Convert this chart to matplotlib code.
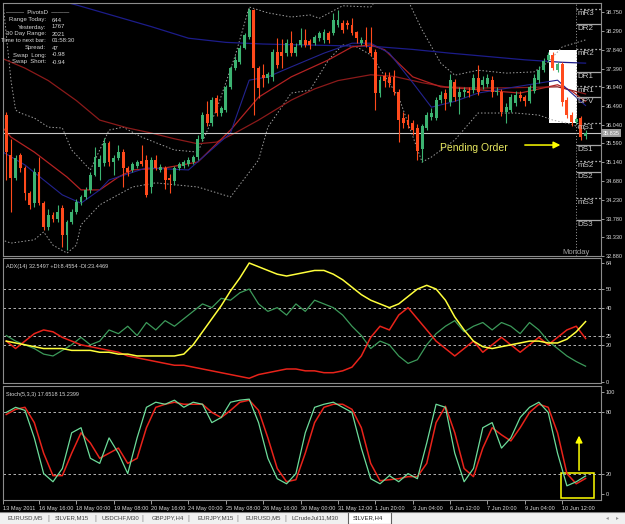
import numpy as np
import matplotlib
matplotlib.use("Agg")
import matplotlib.pyplot as plt
from matplotlib.patches import Rectangle

plt.rcParams['font.family'] = ['Liberation Sans', 'DejaVu Sans']

W, H = 625, 524

# SILVER,H4 candles, bar 0 = 13 May 2011
opens = [34.64, 36.27, 35.31, 34.76, 35.31, 35.00, 34.40, 34.15, 34.90, 34.15,
         33.58, 33.87, 33.76, 34.03, 33.38, 33.70, 33.94, 34.18, 34.30, 34.47,
         34.83, 35.02, 35.12, 35.60, 35.14, 35.24, 35.38, 35.00, 34.95, 35.05,
         35.17, 35.19, 34.54, 35.19, 34.95, 35.00, 34.76, 34.68, 35.00, 35.05,
         35.10, 35.14, 35.26, 35.70, 36.30, 36.08, 36.68, 36.32, 36.39, 36.95,
         37.40, 37.55, 37.88, 38.15, 38.80, 37.40, 37.24, 37.16, 37.19, 37.79,
         37.79, 37.76, 38.00, 37.76, 37.96, 38.08, 38.05, 38.00, 38.12, 38.08,
         38.24, 38.24, 38.44, 38.49, 38.49, 38.44, 38.27, 38.00, 38.08, 37.91,
         37.79, 36.80, 37.20, 37.18, 37.18, 36.82, 36.20, 36.15, 36.08, 35.96,
         35.45, 35.95, 36.22, 36.20, 36.63, 36.80, 36.58, 37.06, 36.70, 36.82,
         36.85, 36.87, 37.16, 36.99, 37.02, 37.11, 36.82, 36.82, 36.34, 36.40,
         36.55, 36.75, 36.70, 36.60, 36.85, 37.11, 37.35, 37.60, 37.72, 37.35,
         37.50, 36.63, 36.27, 36.10, 36.20, 35.76]
closes = [36.27, 35.38, 34.76, 35.24, 35.00, 34.40, 34.11, 34.90, 34.15, 33.58,
          33.87, 33.76, 33.95, 33.38, 33.70, 33.94, 34.18, 34.30, 34.47, 34.83,
          35.26, 35.22, 35.60, 35.14, 35.24, 35.38, 35.00, 34.90, 35.10, 35.15,
          35.10, 34.35, 35.19, 35.00, 35.02, 34.71, 34.71, 35.00, 35.10, 35.15,
          35.20, 35.26, 35.70, 36.27, 36.08, 36.63, 36.32, 36.44, 36.95, 37.40,
          37.60, 37.88, 38.20, 38.80, 37.40, 36.92, 37.16, 37.25, 37.79, 37.48,
          37.70, 38.00, 37.76, 37.91, 38.08, 37.96, 37.96, 38.15, 38.24, 38.27,
          38.08, 38.56, 38.56, 38.32, 38.44, 38.24, 38.12, 38.08, 37.96, 37.76,
          36.80, 37.11, 37.10, 37.04, 36.82, 36.15, 36.08, 36.04, 35.91, 35.40,
          36.00, 36.27, 36.32, 36.63, 36.75, 36.65, 37.11, 36.70, 36.82, 36.88,
          36.80, 37.16, 36.82, 37.11, 37.16, 36.82, 36.85, 36.34, 36.46, 36.70,
          36.75, 36.68, 36.60, 36.94, 37.16, 37.35, 37.56, 37.72, 37.40, 37.50,
          36.58, 36.27, 36.10, 36.18, 35.74, 35.84]
highs = [36.40, 36.35, 35.70, 35.30, 35.35, 35.05, 34.45, 35.00, 35.26, 34.20,
         34.00, 33.95, 34.10, 34.10, 33.75, 34.00, 34.25, 34.35, 34.55, 34.90,
         35.50, 35.30, 35.72, 35.65, 35.30, 35.55, 35.45, 35.05, 35.15, 35.20,
         35.55, 35.30, 35.25, 35.30, 35.10, 35.05, 34.85, 35.05, 35.15, 35.20,
         35.25, 35.30, 35.78, 36.35, 36.60, 36.70, 36.75, 36.50, 37.00, 37.45,
         37.70, 37.95, 38.25, 38.85, 38.82, 37.45, 37.50, 37.30, 37.85, 38.12,
         38.10, 38.10, 38.30, 38.00, 38.36, 38.35, 38.10, 38.20, 38.30, 38.35,
         38.30, 38.73, 38.80, 38.55, 38.55, 38.60, 38.30, 38.15, 38.40, 38.40,
         37.85, 37.20, 37.30, 37.30, 37.35, 36.90, 36.35, 36.30, 36.15, 36.05,
         36.05, 36.35, 36.45, 36.70, 36.85, 36.90, 37.25, 37.15, 36.95, 36.95,
         36.95, 37.25, 37.47, 37.20, 37.25, 37.20, 36.95, 36.90, 36.55, 36.78,
         36.85, 36.85, 36.75, 37.00, 37.25, 37.45, 37.65, 37.80, 37.80, 37.55,
         37.55, 36.70, 36.35, 36.22, 36.25, 35.90]
lows = [34.50, 34.71, 33.94, 34.70, 34.90, 34.23, 34.00, 34.05, 34.10, 33.50,
        33.50, 33.70, 33.70, 33.10, 33.02, 33.65, 33.90, 34.10, 34.25, 34.40,
        34.80, 34.70, 35.05, 35.05, 34.83, 35.20, 34.54, 34.80, 34.90, 35.00,
        35.05, 34.30, 34.40, 34.95, 34.90, 34.50, 34.40, 34.60, 34.95, 35.00,
        35.05, 35.10, 35.20, 35.65, 36.00, 36.00, 36.25, 36.25, 36.35, 36.90,
        37.35, 37.50, 37.85, 38.10, 36.27, 36.68, 36.95, 37.05, 37.10, 37.40,
        37.40, 37.70, 37.70, 37.70, 37.90, 37.90, 37.85, 37.95, 38.05, 38.00,
        38.00, 38.20, 38.40, 38.25, 38.35, 38.20, 38.00, 37.95, 37.90, 37.70,
        36.39, 36.70, 36.95, 36.95, 36.75, 35.62, 35.95, 35.95, 35.80, 35.20,
        35.14, 35.90, 36.15, 36.15, 36.55, 36.40, 36.50, 36.60, 36.30, 36.70,
        36.70, 36.80, 36.75, 36.90, 36.95, 36.70, 36.75, 36.25, 36.08, 36.35,
        36.50, 36.60, 36.50, 36.55, 36.80, 37.05, 37.30, 37.55, 37.35, 37.30,
        36.50, 36.20, 36.00, 36.05, 35.67, 35.70]

# moving averages / bands, read at selected bars
ma_long_bars = [0, 8, 16, 24, 32, 40, 48, 56, 64, 72, 80, 88, 96, 104, 112, 120, 125]
ma_long = [39.40, 39.15, 38.92, 38.66, 38.40, 38.12, 38.02, 37.98, 37.96, 37.94,
           37.92, 37.85, 37.76, 37.68, 37.60, 37.54, 37.52]
ma_slow_bars = [0, 5, 10, 16, 21, 27, 32, 37, 42, 46, 50, 55, 62, 67, 72, 79, 84,
                90, 95, 102, 110, 119, 125]
ma_slow = [37.64, 37.40, 37.10, 36.62, 36.15, 35.96, 35.84, 35.70, 35.58, 35.62,
           35.84, 36.15, 36.63, 36.90, 37.10, 37.24, 37.20, 37.05, 36.95, 36.92,
           36.93, 36.95, 36.78]
ma_fast_bars = [0, 2, 7, 14, 17, 21, 25, 28, 35, 42, 49, 55, 62, 70, 75, 79, 82,
                88, 94, 102, 111, 119, 122, 125]
ma_fast = [36.00, 35.74, 35.38, 34.78, 34.47, 34.47, 34.78, 34.95, 35.00, 35.14,
           35.91, 36.70, 37.19, 37.60, 37.91, 37.96, 37.84, 37.19, 36.95, 36.88,
           36.80, 37.00, 36.85, 36.60]
ma_navy_bars = [0, 5, 13, 17, 21, 23, 31, 40, 49, 53, 57, 62, 69, 75, 79, 83, 88,
                92, 97, 102, 110, 119, 122, 125]
ma_navy = [35.40, 35.07, 34.35, 34.15, 34.47, 34.71, 35.00, 34.95, 35.84, 37.11,
           37.19, 37.43, 37.76, 38.00, 38.00, 37.76, 37.05, 36.46, 36.60, 36.80,
           36.95, 37.11, 36.80, 36.50]
bb_up_bars = [0, 2, 3, 4, 7, 10, 13, 15, 19, 23, 26, 30, 37, 42, 46, 50, 53, 57,
              62, 66, 68, 73, 79, 81, 85, 90, 94, 97, 102, 108, 114, 117, 120, 125]
bb_up = [39.30, 37.11, 36.39, 36.32, 36.20, 35.98, 35.96, 35.43, 34.95, 35.91,
         35.98, 35.74, 35.43, 35.38, 36.40, 37.70, 38.87, 38.73, 38.63, 38.68,
         38.60, 38.90, 38.87, 39.16, 39.50, 38.32, 37.52, 37.23, 37.35, 37.28,
         37.31, 37.55, 37.91, 38.08]
bb_lo_bars = [0, 2, 7, 9, 11, 14, 16, 17, 21, 28, 33, 42, 49, 55, 57, 62, 66, 70,
              73, 76, 79, 85, 90, 92, 97, 102, 110, 115, 118, 122, 125]
bb_lo = [33.27, 33.19, 33.27, 33.46, 33.14, 32.95, 33.14, 33.63, 34.11, 34.54,
         34.64, 34.54, 34.30, 35.19, 35.98, 36.80, 36.87, 37.60, 37.96, 37.91,
         37.72, 36.70, 35.14, 35.26, 35.67, 36.32, 36.32, 36.27, 36.15, 36.05, 35.91]

pivot_names = ['mR3', 'DR2', 'mR2', 'DR1', 'mR1', 'DPV', 'mS1', 'DS1', 'mS2', 'DS2', 'mS3', 'DS3']
pivot_levels = [38.82, 38.46, 37.86, 37.31, 36.97, 36.70, 36.08, 35.55, 35.16, 34.90, 34.27, 33.75]
price_ticks = [38.750, 38.290, 37.840, 37.390, 36.940, 36.490, 36.040, 35.590,
               35.140, 34.680, 34.230, 33.780, 33.330, 32.880]
bid = 35.835

# oscillators, every second bar (1, 3, ..., 125)
osc_bars = list(range(1, 126, 2))
adx = [22, 21, 20, 19, 18, 18, 18, 17, 17, 17, 16, 16, 15, 15, 14, 14, 14, 14, 14, 15,
       20, 27, 34, 41, 49, 56, 64, 62, 60, 58, 57, 58, 59, 60, 60, 58, 55, 51, 47, 44,
       42, 40, 42, 46, 50, 52, 50, 44, 35, 28, 22, 19, 18, 19, 20, 21, 22, 22, 21, 21,
       23, 27, 32.5]
plus_di = [25, 22, 20, 18, 15, 14, 17, 20, 24, 20, 22, 28, 26, 30, 25, 32, 28, 33, 30, 34,
           38, 42, 40, 45, 44, 48, 50, 42, 38, 40, 36, 42, 38, 44, 42, 40, 36, 30, 25, 18,
           22, 20, 14, 10, 12, 20, 26, 30, 33, 27, 30, 32, 28, 32, 30, 26, 32, 28, 22, 18,
           14, 11, 8.5]
minus_di = [22, 18, 22, 26, 28, 27, 24, 22, 20, 19, 18, 17, 16, 14, 13, 12, 11, 10, 9, 9,
            8, 7, 6, 5, 4, 3, 2, 4, 5, 6, 7, 7, 6, 6, 5, 5, 6, 8, 14, 24,
            30, 28, 36, 40, 34, 28, 22, 18, 14, 18, 22, 16, 20, 24, 20, 16, 20, 24, 20, 24,
            28, 30, 23.4]
stoch_k = [80, 85, 82, 55, 20, 12, 25, 60, 65, 35, 30, 55, 40, 20, 55, 85, 90, 88, 92, 85,
           90, 88, 70, 75, 90, 92, 93, 70, 35, 15, 10, 20, 60, 85, 88, 90, 85, 80, 45, 15,
           10, 18, 12, 20, 15, 50, 88, 85, 40, 12, 25, 65, 70, 45, 55, 75, 85, 90, 80, 40,
           8, 12, 17.65]
stoch_d = [78, 83, 85, 70, 40, 18, 18, 40, 60, 50, 35, 40, 45, 30, 35, 65, 85, 88, 90, 88,
           88, 88, 80, 75, 82, 90, 92, 82, 55, 25, 12, 14, 40, 70, 85, 88, 88, 83, 65, 30,
           13, 14, 15, 17, 17, 30, 70, 86, 60, 25, 17, 45, 65, 58, 52, 65, 80, 88, 85, 60,
           20, 10, 15.24]

time_labels = ['13 May 2011', '16 May 16:00', '18 May 00:00', '19 May 08:00', '20 May 16:00',
               '24 May 00:00', '25 May 08:00', '26 May 16:00', '30 May 00:00', '31 May 12:00',
               '1 Jun 20:00', '3 Jun 04:00', '6 Jun 12:00', '7 Jun 20:00', '9 Jun 04:00',
               '10 Jun 12:00']
tabs = ['EURUSD,M5', 'SILVER,M15', 'USDCHF,M30', 'GBPJPY,H4', 'EURJPY,M15',
        'EURUSD,M5', 'LCrudeJul11,M30']
info = [('Range Today:', '644'), ('Yesterday:', '1767'), ('30 Day Range:', '2021'),
        ('Time to next bar:', '01:58:30'), ('Spread:', '47'),
        ('Swap  Long:', '-0.98'), ('Swap  Short:', '-0.94')]

BULL = '#3cb371'
BEAR = '#ff4a1c'
TXT = '#d8d8d8'


def pane(fig, x0, y0, x1, y1):
    ax = fig.add_axes([x0 / W, 1 - y1 / H, (x1 - x0) / W, (y1 - y0) / H])
    ax.set_facecolor('black')
    for s in ax.spines.values():
        s.set_color('#8c8c8c')
        s.set_linewidth(0.8)
    ax.set_xlim(0.3, 128.3)
    ax.yaxis.tick_right()
    ax.tick_params(axis='y', colors=TXT, labelsize=4, length=2, width=0.5, pad=1.5)
    ax.tick_params(axis='x', bottom=False, labelbottom=False)
    return ax


fig = plt.figure(figsize=(W / 100, H / 100), dpi=100, facecolor='black')

# ---- price pane ----
ax = pane(fig, 3, 3, 601, 256)
ax.set_ylim(32.88, 38.967)
ax.set_yticks(price_ticks)
ax.set_yticklabels(['%.3f' % p for p in price_ticks])

ax.add_patch(Rectangle((117.2, 36.08), 6.0, 1.76, facecolor='white', edgecolor='none', zorder=1))

ax.plot(bb_up_bars, bb_up, color='#a0a0a0', ls=(0, (1.5, 2)), lw=0.7, zorder=2)
ax.plot(bb_lo_bars, bb_lo, color='#a0a0a0', ls=(0, (1.5, 2)), lw=0.7, zorder=2)
ax.plot(ma_long_bars, ma_long, color='#1c1c8a', lw=0.9, zorder=2)
ax.plot(ma_slow_bars, ma_slow, color='#8b1a1a', lw=0.9, zorder=2)
ax.plot(ma_fast_bars, ma_fast, color='#b32222', lw=0.9, zorder=2)
ax.plot(ma_navy_bars, ma_navy, color='#23238f', lw=0.8, zorder=2)

o, h, l, c = map(np.array, (opens, highs, lows, closes))
idx = np.arange(len(o))
col = np.where(c >= o, BULL, BEAR)
ax.vlines(idx, l, h, colors=col, lw=0.8, zorder=3)
ax.bar(idx, np.maximum(np.abs(c - o), 0.015), bottom=np.minimum(o, c), width=0.62,
       color=col, linewidth=0, zorder=4)

ax.axhline(bid, color='#c8c8c8', lw=0.8, zorder=2)
ax.text(1.003, bid, '35.835', transform=ax.get_yaxis_transform(), fontsize=4,
        color='white', va='center', ha='left',
        bbox=dict(boxstyle='square,pad=0.25', facecolor='#9a9a9a', edgecolor='none'))

# pivots on the new day (Monday)
ax.axvline(123, color='#a0a0a0', ls=(0, (1, 2)), lw=0.7, zorder=2)
for name, lv in zip(pivot_names, pivot_levels):
    ls = '-' if name.startswith('D') else (0, (1.5, 1.5))
    ax.hlines(lv, 123, 128.3, colors='#a8a8a8', linestyles=ls, lw=0.9, zorder=2)
    ax.text(123.3, lv - 0.02, name, fontsize=5.8, color='#c8c8c8',
            ha='left', va='top', zorder=5)
ax.text(123.0, 32.97, 'Monday', fontsize=5.5, color='#a0a0a0', ha='center', va='center')

ax.text(93.8, 35.48, 'Pending Order', fontsize=7.5, color='#e8e860', va='center', ha='left')
ax.annotate('', xy=(120.2, 35.55), xytext=(111.4, 35.55),
            arrowprops=dict(arrowstyle='-|>,head_length=0.4,head_width=0.2',
                            color='#ffff00', lw=1.1))

# info block
fig.text(38 / W, 1 - 13 / H, '\u2014\u2014\u2014  PivotsD  \u2014\u2014\u2014', fontsize=4.3,
         color=TXT, ha='center', va='center')
for i, (k, v) in enumerate(info):
    y = 1 - (20 + 7 * i) / H
    fig.text(46 / W, y, k, fontsize=4.3, color=TXT, ha='right', va='center')
    fig.text(52 / W, y, v, fontsize=4.3, color=TXT, ha='left', va='center')

# ---- ADX pane ----
ax2 = pane(fig, 3, 258, 601, 383)
ax2.set_ylim(-0.54, 66.7)
ax2.set_yticks([0, 20, 25, 40, 50, 64])
for lv in [20, 25, 40, 50]:
    ax2.axhline(lv, color='#d0d0d0', ls=(0, (3, 3)), lw=0.6)
ax2.plot(osc_bars, plus_di, color='#3c9a5a', lw=0.9)
ax2.plot(osc_bars, minus_di, color='#e8231a', lw=1.1)
ax2.plot(osc_bars, adx, color='#ffff3c', lw=1.1)
ax2.text(0.005, 0.95, 'ADX(14) 32.5497 +DI:8.4554 -DI:23.4469', transform=ax2.transAxes,
         fontsize=4, color=TXT, ha='left', va='top')

# ---- Stochastic pane ----
ax3 = pane(fig, 3, 386, 601, 500)
ax3.set_ylim(-5.9, 105.9)
ax3.set_yticks([0, 20, 80, 100])
for lv in [20, 80]:
    ax3.axhline(lv, color='#d0d0d0', ls=(0, (3, 3)), lw=0.6)
ax3.plot(osc_bars, stoch_d, color='#e8231a', lw=1.1)
ax3.plot(osc_bars, stoch_k, color='#6ddc9a', lw=0.9)
ax3.text(0.005, 0.95, 'Stoch(5,3,3) 17.6518 15.2399', transform=ax3.transAxes,
         fontsize=4, color=TXT, ha='left', va='top')
ax3.add_patch(Rectangle((119.7, -3.9), 7.1, 24.5, facecolor='none', edgecolor='#ffff00', lw=1.1))
ax3.annotate('', xy=(123.6, 60), xytext=(123.6, 20.6),
             arrowprops=dict(arrowstyle='-|>,head_length=0.4,head_width=0.2',
                             color='#ffff00', lw=1.1))

xt = [0.3] + list(range(8, 121, 8))
ax3.set_xticks(xt)
ax3.set_xticklabels(time_labels)
ax3.tick_params(axis='x', bottom=True, labelbottom=True, colors=TXT, labelsize=4.1,
                length=3, width=0.5, pad=1)
for t in ax3.get_xticklabels():
    t.set_ha('left')

# ---- tab bar ----
tb = fig.add_axes([0, 0, 1, 12 / H])
tb.set_xlim(0, W)
tb.set_ylim(0, 12)
tb.set_facecolor('#f0f0f0')
tb.set_xticks([])
tb.set_yticks([])
for s in tb.spines.values():
    s.set_visible(False)
tb.axhline(11.6, color='#808080', lw=0.8)
tab_x = [7, 55, 102, 152, 197, 246, 292]
sep_x = [48, 95, 142, 188, 237, 285]
for x, name in zip(tab_x, tabs):
    tb.text(x, 6, name, fontsize=4.3, color='#404040', ha='left', va='center')
for x in sep_x:
    tb.text(x, 6, '|', fontsize=5, color='#808080', ha='center', va='center')
tb.add_patch(Rectangle((348, 0.5), 43, 11.5, facecolor='white', edgecolor='#606060', lw=0.8))
tb.text(353, 6, 'SILVER,H4', fontsize=4.3, color='#202020', ha='left', va='center')
tb.text(607, 6, '\u25c2', fontsize=4, color='#909090', ha='center', va='center')
tb.text(617, 6, '\u25b8', fontsize=4, color='#909090', ha='center', va='center')

fig.savefig('out.png', dpi=100, facecolor='black')
